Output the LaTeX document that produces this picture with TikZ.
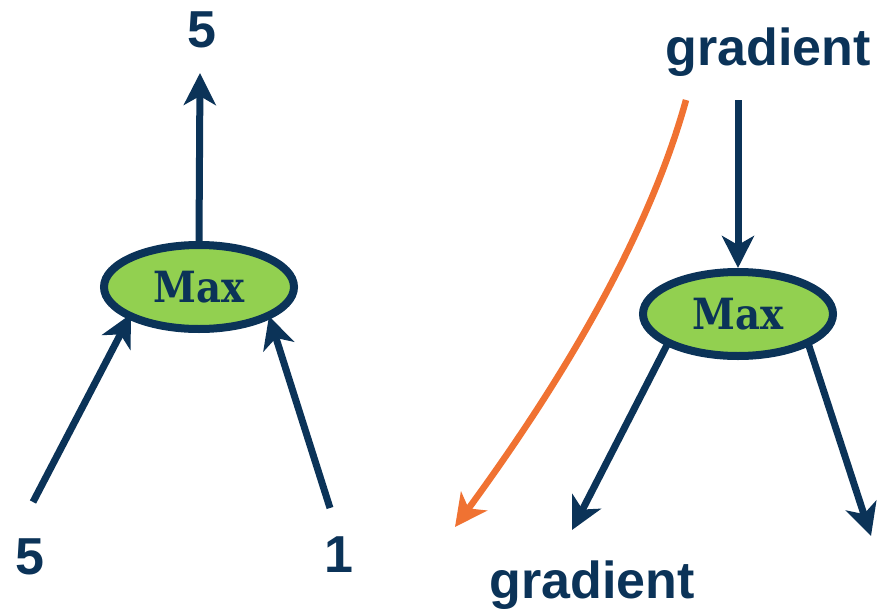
\documentclass[tikz,border=0pt]{standalone}
\usepackage{fontspec}
\setmainfont{Liberation Sans}
\newfontfamily\slabfont{DejaVu Serif Condensed}
\usetikzlibrary{arrows.meta,shapes.geometric}
\definecolor{navy}{HTML}{0B3358}
\definecolor{leaf}{HTML}{92D050}
\definecolor{tang}{HTML}{F07232}
\tikzset{
  maxnode/.style={ellipse, draw=navy, line width=8pt, fill=leaf, minimum width=190pt, minimum height=84pt, inner sep=0pt,
    font=\slabfont\bfseries\fontsize{43}{43}\selectfont, text=navy},
  lbl/.style={font=\bfseries\fontsize{52}{52}\selectfont, text=navy, inner sep=0pt},
  arr/.style={draw=navy, line width=7pt, -{Stealth[length=32pt,width=32pt,inset=9pt]}},
  oarr/.style={draw=tang, line width=6.5pt, -{Stealth[length=32pt,width=32pt,inset=9pt]}}
}
\begin{document}
\begin{tikzpicture}[x=1pt,y=-1pt]
\useasboundingbox (0,0) rectangle (888,613);
% left
\node[maxnode] (m1) at (199,287) {Max};
\node[lbl] (out1) at (202,30) {5};
\node[lbl] (in1) at (30,557) {5};
\node[lbl] (in2) at (339,555) {1};
\coordinate (t1) at (200,73);
\coordinate (s1) at (33,502);
\coordinate (s2) at (330,508);
\coordinate (e1) at (131,314);
\coordinate (e2) at (269,316);
\draw[arr] (m1.north) -- (t1);
\draw[arr] (s1) -- (e1);
\draw[arr] (s2) -- (e2);
% right
\node[maxnode] (m2) at (738,314) {Max};
\node[lbl] (g1) at (768,52) {gradient};
\node[lbl] (g2) at (592,585) {gradient};
\coordinate (a0) at (738,100);
\coordinate (b1) at (668,343);
\coordinate (b2) at (808,343);
\coordinate (c1) at (572,530);
\coordinate (c2) at (871,536);
\coordinate (o0) at (686,100);
\coordinate (o1) at (455,527);
\draw[arr] (a0) -- (m2.north);
\draw[arr] (b1) -- (c1);
\draw[arr] (b2) -- (c2);
\draw[oarr] (o0) .. controls (650,230) and (570,370) .. (o1);
\end{tikzpicture}
\end{document}
